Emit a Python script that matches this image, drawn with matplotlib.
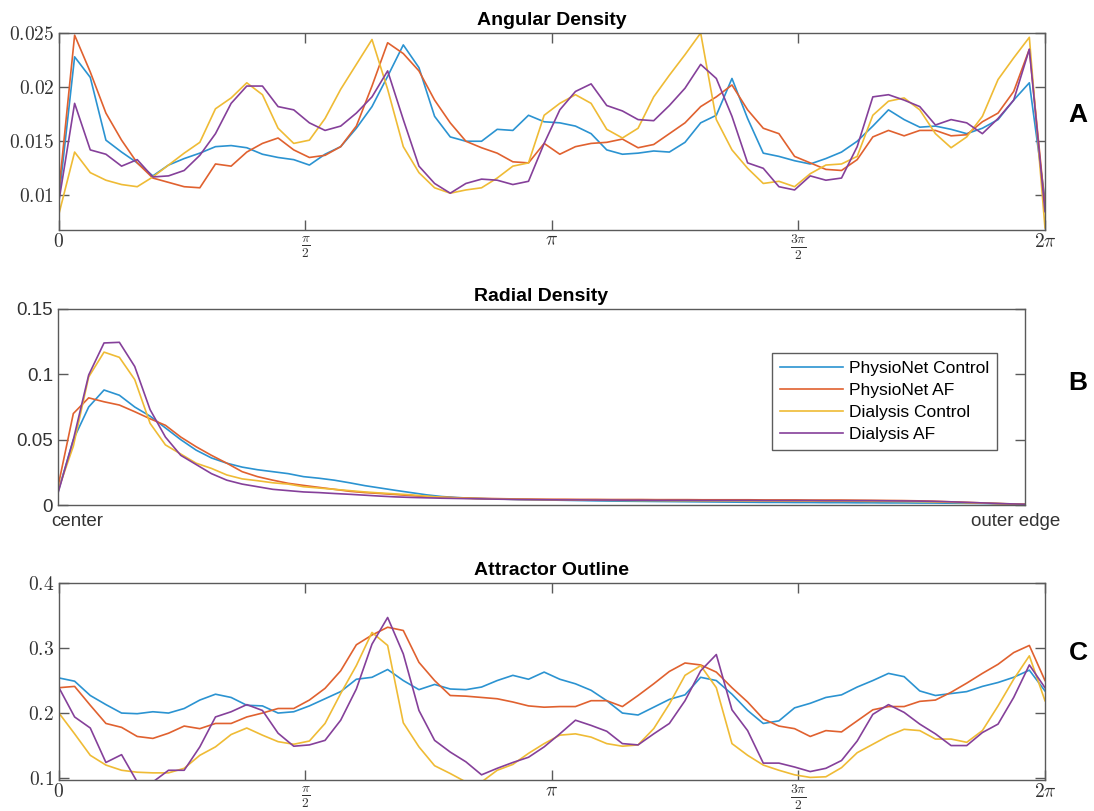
import matplotlib as mpl
import matplotlib.pyplot as plt
import numpy as np

mpl.use('Agg')
mpl.rc("mathtext", fontset="cm")
mpl.rc("font", family="Liberation Sans")

series = ["PhysioNet Control", "PhysioNet AF", "Dialysis Control", "Dialysis AF"]
colors = ["#2b93d1", "#e0612f", "#efbb35", "#85409a"]

# angular density, 64 bins over 0..2pi
ang_pn_ctrl = [0.0098, 0.0228, 0.0209, 0.0151, 0.0140, 0.0130, 0.0118, 0.0128, 0.0134, 0.0139,
               0.0145, 0.0146, 0.0144, 0.0138, 0.0135, 0.0133, 0.0128, 0.0138, 0.0145, 0.0162,
               0.0182, 0.0210, 0.0239, 0.0218, 0.0173, 0.0154, 0.0150, 0.0150, 0.0161, 0.0160,
               0.0174, 0.0168, 0.0167, 0.0164, 0.0157, 0.0142, 0.0138, 0.0139, 0.0141, 0.0140,
               0.0149, 0.0167, 0.0174, 0.0208, 0.0171, 0.0139, 0.0136, 0.0132, 0.0129, 0.0134,
               0.0140, 0.0150, 0.0164, 0.0179, 0.0170, 0.0163, 0.0164, 0.0161, 0.0157, 0.0162,
               0.0170, 0.0188, 0.0204, 0.0096]
ang_pn_af = [0.0105, 0.0248, 0.0214, 0.0176, 0.0151, 0.0130, 0.0116, 0.0112, 0.0108, 0.0107,
             0.0129, 0.0127, 0.0140, 0.0148, 0.0153, 0.0142, 0.0135, 0.0137, 0.0145, 0.0164,
             0.0201, 0.0241, 0.0231, 0.0215, 0.0188, 0.0167, 0.0150, 0.0144, 0.0139, 0.0131,
             0.0130, 0.0148, 0.0138, 0.0145, 0.0148, 0.0149, 0.0152, 0.0144, 0.0147, 0.0157,
             0.0167, 0.0182, 0.0191, 0.0202, 0.0179, 0.0162, 0.0157, 0.0136, 0.0130, 0.0124,
             0.0123, 0.0133, 0.0154, 0.0160, 0.0155, 0.0160, 0.0160, 0.0155, 0.0156, 0.0168,
             0.0176, 0.0196, 0.0235, 0.0090]
ang_dia_ctrl = [0.0083, 0.0140, 0.0121, 0.0114, 0.0110, 0.0108, 0.0117, 0.0128, 0.0139, 0.0149,
                0.0180, 0.0190, 0.0204, 0.0193, 0.0162, 0.0148, 0.0151, 0.0171, 0.0198, 0.0221,
                0.0244, 0.0198, 0.0145, 0.0121, 0.0107, 0.0102, 0.0105, 0.0107, 0.0116, 0.0127,
                0.0130, 0.0174, 0.0185, 0.0193, 0.0185, 0.0161, 0.0153, 0.0162, 0.0191, 0.0211,
                0.0230, 0.0250, 0.0170, 0.0142, 0.0125, 0.0111, 0.0113, 0.0108, 0.0120, 0.0128,
                0.0129, 0.0136, 0.0174, 0.0187, 0.0190, 0.0179, 0.0157, 0.0144, 0.0154, 0.0173,
                0.0207, 0.0227, 0.0246, 0.0070]
ang_dia_af = [0.0095, 0.0185, 0.0142, 0.0138, 0.0127, 0.0133, 0.0117, 0.0118, 0.0123, 0.0137,
              0.0157, 0.0185, 0.0201, 0.0201, 0.0182, 0.0179, 0.0167, 0.0160, 0.0164, 0.0176,
              0.0191, 0.0215, 0.0170, 0.0127, 0.0111, 0.0102, 0.0111, 0.0115, 0.0114, 0.0110,
              0.0113, 0.0148, 0.0179, 0.0196, 0.0203, 0.0183, 0.0178, 0.0170, 0.0169, 0.0183,
              0.0199, 0.0221, 0.0208, 0.0173, 0.0130, 0.0125, 0.0108, 0.0105, 0.0118, 0.0114,
              0.0116, 0.0145, 0.0191, 0.0193, 0.0188, 0.0182, 0.0165, 0.0170, 0.0167, 0.0157,
              0.0171, 0.0188, 0.0235, 0.0085]

# radial density, 64 bins from center to outer edge
rad_pn_ctrl = [0.010, 0.050, 0.075, 0.088, 0.084, 0.075, 0.068, 0.059, 0.050, 0.042,
               0.036, 0.032, 0.029, 0.027, 0.0255, 0.024, 0.0217, 0.0205, 0.019, 0.017,
               0.0148, 0.013, 0.0112, 0.0095, 0.0078, 0.0065, 0.0057, 0.0052, 0.0048, 0.0045,
               0.0042, 0.0040, 0.0038, 0.0036, 0.0034, 0.0032, 0.0030, 0.0029, 0.0028, 0.0027,
               0.0026, 0.0025, 0.0024, 0.0023, 0.0022, 0.0021, 0.0020, 0.0020, 0.0019, 0.0019,
               0.0018, 0.0018, 0.0017, 0.0017, 0.0016, 0.0016, 0.0015, 0.0015, 0.0014, 0.0013,
               0.0012, 0.0010, 0.0008, 0.0005]
rad_pn_af = [0.014, 0.070, 0.082, 0.079, 0.0765, 0.0714, 0.066, 0.061, 0.052, 0.0446,
             0.038, 0.032, 0.0255, 0.0217, 0.019, 0.0166, 0.015, 0.0135, 0.012, 0.0105,
             0.0095, 0.0088, 0.0080, 0.0072, 0.0065, 0.0060, 0.0056, 0.0052, 0.0050, 0.0048,
             0.0046, 0.0045, 0.0044, 0.0044, 0.0043, 0.0043, 0.0042, 0.0042, 0.0042, 0.0041,
             0.0041, 0.0041, 0.0040, 0.0040, 0.0040, 0.0040, 0.0039, 0.0039, 0.0039, 0.0038,
             0.0038, 0.0038, 0.0037, 0.0036, 0.0035, 0.0034, 0.0032, 0.0029, 0.0025, 0.0021,
             0.0017, 0.0012, 0.0008, 0.0005]
rad_dia_ctrl = [0.011, 0.045, 0.098, 0.117, 0.113, 0.096, 0.0625, 0.046, 0.039, 0.032,
                0.028, 0.023, 0.020, 0.0186, 0.017, 0.016, 0.014, 0.013, 0.012, 0.011,
                0.010, 0.0092, 0.0085, 0.0078, 0.0068, 0.0060, 0.0054, 0.0050, 0.0047, 0.0045,
                0.0043, 0.0041, 0.0040, 0.0039, 0.0038, 0.0037, 0.0036, 0.0035, 0.0034, 0.0034,
                0.0033, 0.0033, 0.0032, 0.0032, 0.0032, 0.0031, 0.0031, 0.0030, 0.0030, 0.0030,
                0.0029, 0.0029, 0.0029, 0.0028, 0.0028, 0.0027, 0.0026, 0.0024, 0.0021, 0.0018,
                0.0015, 0.0012, 0.0009, 0.0006]
rad_dia_af = [0.009, 0.050, 0.0995, 0.124, 0.1245, 0.106, 0.073, 0.052, 0.038, 0.031,
              0.024, 0.019, 0.016, 0.014, 0.012, 0.011, 0.010, 0.0095, 0.0088, 0.0082,
              0.0075, 0.0068, 0.0062, 0.0058, 0.0055, 0.0052, 0.0050, 0.0048, 0.0046, 0.0044,
              0.0042, 0.0041, 0.0040, 0.0039, 0.0039, 0.0038, 0.0038, 0.0037, 0.0037, 0.0036,
              0.0036, 0.0036, 0.0035, 0.0035, 0.0035, 0.0035, 0.0034, 0.0034, 0.0034, 0.0034,
              0.0033, 0.0033, 0.0033, 0.0033, 0.0032, 0.0031, 0.0030, 0.0028, 0.0025, 0.0021,
              0.0017, 0.0013, 0.0009, 0.0006]

# attractor outline, 64 bins over 0..2pi
out_pn_ctrl = [0.254, 0.249, 0.227, 0.213, 0.200, 0.199, 0.202, 0.200, 0.207, 0.220,
               0.229, 0.224, 0.212, 0.211, 0.200, 0.202, 0.211, 0.222, 0.233, 0.252,
               0.255, 0.267, 0.250, 0.236, 0.244, 0.237, 0.236, 0.240, 0.250, 0.258,
               0.252, 0.263, 0.252, 0.245, 0.235, 0.219, 0.200, 0.197, 0.209, 0.221,
               0.228, 0.255, 0.250, 0.229, 0.204, 0.184, 0.188, 0.208, 0.215, 0.224,
               0.228, 0.240, 0.250, 0.261, 0.256, 0.234, 0.227, 0.230, 0.233, 0.241,
               0.247, 0.255, 0.266, 0.234]
out_pn_af = [0.239, 0.241, 0.212, 0.184, 0.178, 0.164, 0.161, 0.169, 0.180, 0.176,
             0.184, 0.184, 0.194, 0.200, 0.207, 0.207, 0.220, 0.238, 0.265, 0.305,
             0.320, 0.332, 0.327, 0.278, 0.250, 0.227, 0.226, 0.224, 0.222, 0.217,
             0.211, 0.209, 0.210, 0.210, 0.219, 0.219, 0.210, 0.227, 0.245, 0.264,
             0.277, 0.274, 0.263, 0.239, 0.217, 0.191, 0.180, 0.176, 0.164, 0.173,
             0.171, 0.188, 0.205, 0.210, 0.210, 0.218, 0.220, 0.232, 0.246, 0.261,
             0.275, 0.293, 0.304, 0.250]
out_dia_ctrl = [0.200, 0.168, 0.135, 0.120, 0.112, 0.109, 0.108, 0.108, 0.115, 0.135,
                0.148, 0.167, 0.177, 0.166, 0.156, 0.152, 0.157, 0.184, 0.230, 0.273,
                0.324, 0.304, 0.185, 0.148, 0.119, 0.107, 0.094, 0.094, 0.112, 0.121,
                0.138, 0.153, 0.166, 0.168, 0.163, 0.153, 0.149, 0.151, 0.176, 0.214,
                0.258, 0.273, 0.239, 0.153, 0.135, 0.120, 0.112, 0.105, 0.101, 0.102,
                0.116, 0.139, 0.152, 0.165, 0.175, 0.173, 0.160, 0.160, 0.155, 0.173,
                0.211, 0.252, 0.288, 0.219]
out_dia_af = [0.239, 0.194, 0.177, 0.124, 0.136, 0.094, 0.094, 0.112, 0.112, 0.148,
              0.194, 0.202, 0.213, 0.204, 0.169, 0.149, 0.151, 0.158, 0.189, 0.237,
              0.306, 0.347, 0.291, 0.204, 0.158, 0.140, 0.125, 0.105, 0.115, 0.124,
              0.132, 0.148, 0.168, 0.189, 0.181, 0.172, 0.153, 0.151, 0.168, 0.184,
              0.219, 0.265, 0.290, 0.205, 0.173, 0.123, 0.123, 0.117, 0.110, 0.115,
              0.127, 0.157, 0.198, 0.213, 0.201, 0.183, 0.168, 0.150, 0.150, 0.170,
              0.183, 0.224, 0.274, 0.239]

angle_ticks = [0, np.pi / 2, np.pi, 3 * np.pi / 2, 2 * np.pi]
angle_labels = [r"$0$", r"$\frac{\pi}{2}$", r"$\pi$", r"$\frac{3\pi}{2}$", r"$2\pi$"]

spine_col = "#5a5a5a"
text_col = "#333333"


def style_axes(ax):
    for s in ax.spines.values():
        s.set_color(spine_col)
        s.set_linewidth(1.0)
    ax.tick_params(direction="in", length=7, width=1.0, color=spine_col,
                   top=True, right=True, labelcolor=text_col)


def angle_panel(ax, data, ylim, yticks, ylabels, title):
    theta = np.linspace(0, 2 * np.pi, len(data[0]))
    for vals, col, lab in zip(data, colors, series):
        ax.plot(theta, vals, color=col, lw=1.2, label=lab)
    ax.set_xlim(0, 2 * np.pi)
    ax.set_ylim(*ylim)
    ax.set_xticks(angle_ticks)
    ax.set_xticklabels(angle_labels, fontsize=14)
    ax.set_yticks(yticks)
    ax.set_yticklabels(ylabels, fontsize=14)
    ax.set_title(title, fontsize=14, fontweight="bold", pad=6)
    style_axes(ax)
    ax.tick_params(axis="x", pad=2)


fig = plt.figure(figsize=(10.94, 8.11), dpi=100)

axA = fig.add_axes([0.0539, 0.7164, 0.9013, 0.2429])
angle_panel(axA, [ang_pn_ctrl, ang_pn_af, ang_dia_ctrl, ang_dia_af],
            (0.0068, 0.025), [0.01, 0.015, 0.02, 0.025],
            [r"$0.01$", r"$0.015$", r"$0.02$", r"$0.025$"], "Angular Density")

axB = fig.add_axes([0.0530, 0.3773, 0.8839, 0.2417])
r = np.arange(len(rad_pn_ctrl))
for vals, col, lab in zip([rad_pn_ctrl, rad_pn_af, rad_dia_ctrl, rad_dia_af], colors, series):
    axB.plot(r, vals, color=col, lw=1.2, label=lab)
axB.set_xlim(0, len(r) - 1)
axB.set_ylim(0, 0.15)
axB.set_yticks([0, 0.05, 0.1, 0.15])
axB.set_yticklabels(["0", "0.05", "0.1", "0.15"], fontsize=13.5)
axB.set_xticks([1.25, 62.4])
axB.set_xticklabels(["center", "outer edge"], fontsize=13.5)
axB.set_title("Radial Density", fontsize=14, fontweight="bold", pad=6)
style_axes(axB)
axB.tick_params(axis="x", length=0, pad=6)
leg = axB.legend(loc="upper right", bbox_to_anchor=(0.971, 0.776), fontsize=12.5,
                 frameon=True, fancybox=False, handlelength=3.6, borderpad=0.45,
                 labelspacing=0.4, handletextpad=0.35, borderaxespad=0)
leg.get_frame().set_edgecolor("#333333")
leg.get_frame().set_linewidth(1.0)

axC = fig.add_axes([0.0539, 0.0382, 0.9013, 0.2429])
angle_panel(axC, [out_pn_ctrl, out_pn_af, out_dia_ctrl, out_dia_af],
            (0.097, 0.4), [0.1, 0.2, 0.3, 0.4],
            [r"$0.1$", r"$0.2$", r"$0.3$", r"$0.4$"], "Attractor Outline")

for letter, yy in [("A", 0.858), ("B", 0.5277), ("C", 0.1948)]:
    fig.text(0.9854, yy, letter, fontsize=19, fontweight="bold", ha="center", va="center")

plt.savefig("out.png", dpi=100)
